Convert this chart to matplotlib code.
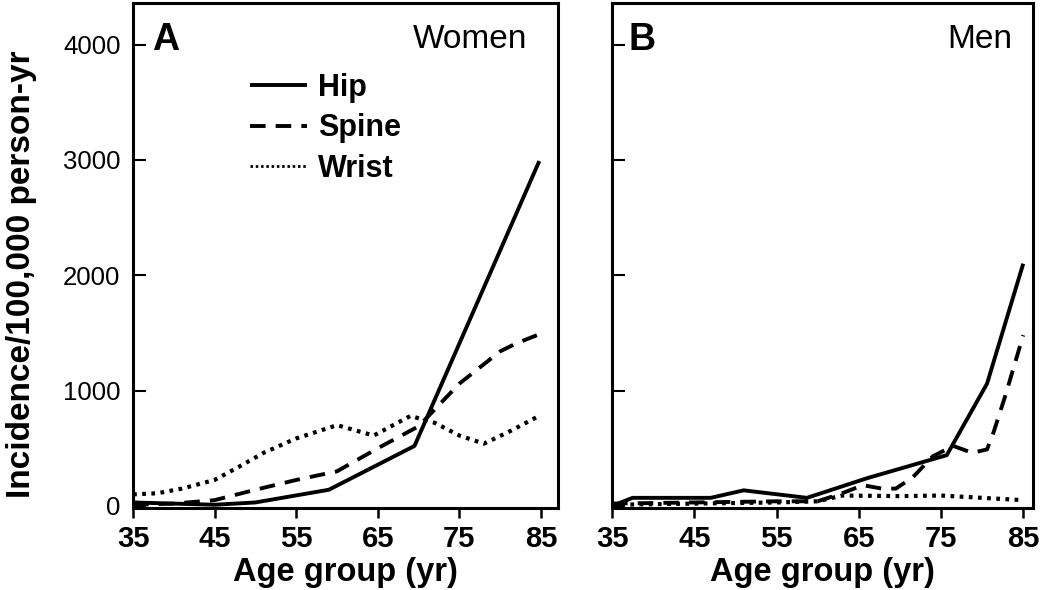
import numpy as np
import matplotlib
matplotlib.use('Agg')
import matplotlib.pyplot as plt
from matplotlib.lines import Line2D

plt.rcParams['font.family'] = ['Liberation Sans', 'DejaVu Sans']

# Women (panel A)
w_hip_age = [35, 40, 45, 50, 59, 69.5, 84.8]
w_hip_val = [30, 20, 10, 30, 140, 520, 2990]

w_spine_age = [35, 40, 45, 50, 55, 58, 60, 65, 70, 75, 80, 82, 84.5]
w_spine_val = [10, 20, 50, 140, 225, 270, 300, 500, 690, 1060, 1340, 1410, 1480]

w_wrist_age = [35, 38, 41, 45, 48, 51, 55, 60, 64.5, 69, 72, 75, 78, 81, 84.5]
w_wrist_val = [100, 110, 150, 225, 340, 460, 585, 700, 610, 780, 720, 610, 540, 640, 770]

# Men (panel B)
m_hip_age = [35, 37.5, 47, 51, 58.7, 66, 75.7, 80.6, 85]
m_hip_val = [0, 70, 70, 135, 70, 240, 440, 1060, 2100]

m_spine_age = [35, 45, 55, 60, 63, 65.5, 67.8, 69.5, 71.6, 74, 76.5, 78.8, 80.6, 81.4, 82.8, 85]
m_spine_val = [20, 30, 40, 40, 110, 180, 150, 150, 250, 430, 520, 460, 490, 640, 950, 1480]

m_wrist_age = [35, 45, 55, 60, 63, 70, 75, 80, 85]
m_wrist_val = [10, 20, 30, 40, 90, 85, 90, 70, 50]

xticks = [35, 45, 55, 65, 75, 85]
yticks = [0, 1000, 2000, 3000, 4000]

hip_style = dict(color='black', lw=2.8, linestyle='-', solid_capstyle='butt')
spine_style = dict(color='black', lw=2.8, linestyle=(0, (4.0, 2.6)))
wrist_style = dict(color='black', lw=3.0, linestyle=(0, (0.9, 1.3)))

fig = plt.figure(figsize=(10.5, 5.9), dpi=100)
axA = fig.add_axes([0.1267, 0.139, 0.4048, 0.8559])
axB = fig.add_axes([0.5829, 0.139, 0.4010, 0.8559])

for ax, xmax in [(axA, 87.1), (axB, 86.2)]:
    ax.set_xlim(35, xmax)
    ax.set_ylim(-18, 4360)
    ax.set_xticks(xticks)
    ax.set_yticks(yticks)
    for s in ax.spines.values():
        s.set_linewidth(2.2)
    ax.tick_params(axis='x', direction='out', length=7, width=1.8, pad=5)
    ax.tick_params(axis='y', direction='in', length=9, width=1.5, pad=9)
    for lab in ax.get_xticklabels():
        lab.set_fontsize(21)
        lab.set_fontweight('bold')
    ax.set_xlabel('Age group (yr)', fontsize=23.5, fontweight='bold', labelpad=3)

for lab in axA.get_yticklabels():
    lab.set_fontsize(18.5)
axB.set_yticklabels([])

axA.plot(w_hip_age, w_hip_val, **hip_style)
axA.plot(w_spine_age, w_spine_val, **spine_style)
axA.plot(w_wrist_age, w_wrist_val, **wrist_style)

axB.plot(m_hip_age, m_hip_val, **hip_style)
axB.plot(m_spine_age, m_spine_val, **spine_style)
axB.plot(m_wrist_age, m_wrist_val, **wrist_style)

axA.text(0.045, 0.907, 'A', transform=axA.transAxes, fontsize=27,
         fontweight='bold', ha='left', va='baseline')
axA.text(0.927, 0.911, 'Women', transform=axA.transAxes, fontsize=24,
         ha='right', va='baseline')
axB.text(0.038, 0.907, 'B', transform=axB.transAxes, fontsize=27,
         fontweight='bold', ha='left', va='baseline')
axB.text(0.950, 0.911, 'Men', transform=axB.transAxes, fontsize=24,
         ha='right', va='baseline')

handles = [Line2D([], [], **hip_style),
           Line2D([], [], **spine_style),
           Line2D([], [], lw=2.0, color='black', linestyle=(0, (0.9, 1.0)))]
axA.legend(handles, ['Hip', 'Spine', 'Wrist'], loc='upper left',
           bbox_to_anchor=(0.275, 0.862), frameon=False, borderpad=0,
           borderaxespad=0, handlelength=1.86, handletextpad=0.36,
           labelspacing=0.35, prop={'size': 22, 'weight': 'bold'})

fig.text(22 / 1050, 1 - 274 / 590, 'Incidence/100,000 person-yr',
         rotation=90, ha='center', va='center', fontsize=24,
         fontweight='bold')

fig.savefig('out.png', dpi=100)
